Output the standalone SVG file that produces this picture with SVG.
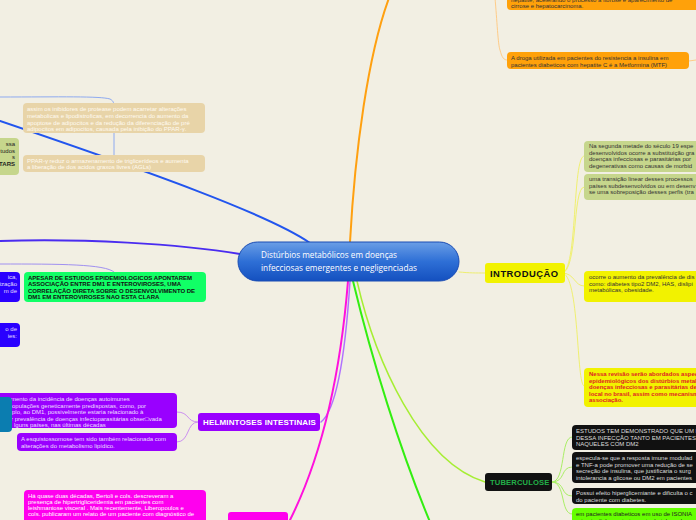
<svg xmlns="http://www.w3.org/2000/svg" width="696" height="520" viewBox="0 0 696 520">
<defs>
<linearGradient id="cg" x1="0" y1="0" x2="0" y2="1">
<stop offset="0" stop-color="#6a9ee6"/>
<stop offset="0.5" stop-color="#2e6fd6"/>
<stop offset="1" stop-color="#1450bf"/>
</linearGradient>
<style>
.t{font-family:"Liberation Sans",Arial,sans-serif;font-size:6px}
.b{font-weight:bold}
.h{font-family:"Liberation Sans",Arial,sans-serif;font-weight:bold}
.c{fill:none;stroke-linecap:round}
</style>
</defs>
<rect width="696" height="520" fill="#f2efe3"/>

<g id="connectors">
<path class="c" d="M310 243 C270 215 150 172 0 121" stroke="#2255ee" stroke-width="2"/>
<path class="c" d="M240 254 C180 244 80 238 0 241" stroke="#4a2cf0" stroke-width="2"/>
<path class="c" d="M350 242 C355 150 368 55 389 -2" stroke="#ffa010" stroke-width="2"/>
<path class="c" d="M459 272 C470 273 475 273 485 273" stroke="#eeee70" stroke-width="1"/>
<path class="c" d="M350 281 C345 360 336 410 321 422" stroke="#b070ff" stroke-width="1.5"/>
<path class="c" d="M348 281 C340 380 320 460 290 520" stroke="#ff11dd" stroke-width="2"/>
<path class="c" d="M353 281 C372 360 400 450 430 522" stroke="#33ee11" stroke-width="2"/>
<path class="c" d="M357 281 C375 360 420 462 485 482" stroke="#a6ee33" stroke-width="1.5"/>
<path class="c" d="M0 97 C60 97 100 96 110 99 C114 101 114 104 114 108 L114 155" stroke="#8eaaf0" stroke-width="1"/>
<path class="c" d="M0 264 C60 264 105 264 114 272" stroke="#a090f0" stroke-width="1"/>
<path class="c" d="M495 -2 C497 20 498 45 500 50 C502 58 504 60 507 60" stroke="#ffcc88" stroke-width="1"/>
<path class="c" d="M689 61 L696 60" stroke="#ffcc88" stroke-width="1"/>
<path class="c" d="M562 273 C578 273 572 156 584 156" stroke="#f0f070" stroke-width="1"/>
<path class="c" d="M562 273 C578 273 572 187 584 187" stroke="#f0f070" stroke-width="1"/>
<path class="c" d="M562 273 C575 273 574 286 584 286" stroke="#f0f070" stroke-width="1"/>
<path class="c" d="M562 273 C580 273 576 386 584 386" stroke="#f0f070" stroke-width="1"/>
<path class="c" d="M198 422 C186 422 190 412 177 412" stroke="#cc90f0" stroke-width="1"/>
<path class="c" d="M198 422 C186 422 190 442 177 442" stroke="#cc90f0" stroke-width="1"/>
<path class="c" d="M552 482 C566 482 560 437 572 437" stroke="#aaee66" stroke-width="1"/>
<path class="c" d="M552 482 C566 482 560 467 572 467" stroke="#aaee66" stroke-width="1"/>
<path class="c" d="M552 482 C566 482 560 496 572 496" stroke="#aaee66" stroke-width="1"/>
<path class="c" d="M552 482 C566 482 560 514 572 514" stroke="#aaee66" stroke-width="1"/>
</g>

<g id="central">
<rect x="238" y="242" width="221" height="39" rx="19.5" fill="url(#cg)" stroke="#1a4cb4" stroke-width="1"/>
<text x="261" y="258" font-family="'Open Sans','Liberation Sans',sans-serif" font-size="9" fill="#ffffff" textLength="136" lengthAdjust="spacingAndGlyphs">Distúrbios metabólicos em doenças</text>
<text x="261" y="271" font-family="'Open Sans','Liberation Sans',sans-serif" font-size="9" fill="#ffffff" textLength="156" lengthAdjust="spacingAndGlyphs">infecciosas emergentes e negligenciadas</text>
</g>

<g id="introducao">
<rect x="485" y="263" width="80" height="20" rx="3" fill="#f2f200"/>
<text x="490" y="277" class="h" style="font-size:9.4px;letter-spacing:0.5px" fill="#111">INTRODUÇÃO</text>
</g>
<g id="intro-seculo19">
<rect x="584" y="141" width="120" height="31" rx="4" fill="#c6d68c"/>
<text class="t" fill="#333" x="589" y="148">Na segunda metade do século 19 espe</text>
<text class="t" fill="#333" x="589" y="154.5">desenvolvidos ocorre a substituição gra</text>
<text class="t" fill="#333" x="589" y="161">doenças infecciosas e parasitárias por</text>
<text class="t" fill="#333" x="589" y="167.5">degenerativas como causas de morbid</text>
</g>
<g id="intro-transicao">
<rect x="584" y="174" width="120" height="26" rx="4" fill="#c6d68c"/>
<text class="t" fill="#333" x="589" y="181">uma transição linear desses processos</text>
<text class="t" fill="#333" x="589" y="187.5">países subdesenvolvidos ou em desenv</text>
<text class="t" fill="#333" x="589" y="194">se uma sobreposição desses perfis (tra</text>
</g>
<g id="intro-prevalencia">
<rect x="584" y="271" width="120" height="31" rx="4" fill="#f2f200"/>
<text class="t" fill="#333" x="589" y="279">ocorre o aumento da prevalência de dis</text>
<text class="t" fill="#333" x="589" y="285.5">como: diabetes tipo2 DM2, HAS, dislipi</text>
<text class="t" fill="#333" x="589" y="292">metabólicas, obesidade.</text>
</g>
<g id="intro-revisao">
<rect x="584" y="368" width="120" height="39" rx="4" fill="#f2f200"/>
<text class="t b" fill="#e02424" x="589" y="376">Nessa revisão serão abordados aspec</text>
<text class="t b" fill="#e02424" x="589" y="382.5">epidemiológicos dos distúrbios metab</text>
<text class="t b" fill="#e02424" x="589" y="389">doenças infecciosas e parasitárias de</text>
<text class="t b" fill="#e02424" x="589" y="395.5">local no brasil, assim como mecanism</text>
<text class="t b" fill="#e02424" x="589" y="402">associação.</text>
</g>

<g id="orange-cirrose">
<rect x="507" y="-20" width="200" height="30" rx="4" fill="#ffa10a"/>
<text class="t" fill="#333" x="511" y="1.5">hepatite, acelerando o processo a fibrose e aparecimento de</text>
<text class="t" fill="#333" x="511" y="8">cirrose e  hepatocarcinoma.</text>
</g>
<g id="orange-metformina">
<rect x="507" y="52" width="182" height="17" rx="4" fill="#ffa10a"/>
<text class="t" fill="#333" x="511" y="60">A droga utilizada em pacientes do resistencia a insulina em</text>
<text class="t" fill="#333" x="511" y="66.5">pacientes diabeticos com hepatite C é a Metformina (MTF)</text>
</g>

<g id="tan-inibidores">
<rect x="23" y="103" width="182" height="30" rx="4" fill="#e8d4a8"/>
<text class="t" fill="#fffaf0" x="27" y="110.5">assim os inibidores de protease podem acarretar alterações</text>
<text class="t" fill="#fffaf0" x="27" y="117.5">metabolicas e lipodistroficas, em decorrencia do aumento da</text>
<text class="t" fill="#fffaf0" x="27" y="124.5">apoptose de adipocitos e da redução da diferenciação de pré</text>
<text class="t" fill="#fffaf0" x="27" y="131">adipocitos em adipocitos, causada pela inibição do PPAR-γ.</text>
</g>
<g id="tan-ppar">
<rect x="23" y="155" width="182" height="17" rx="4" fill="#e8d4a8"/>
<text class="t" fill="#fffaf0" x="27" y="162.5">PPAR-γ reduz  o armazenamento de triglicerídeos e  aumenta</text>
<text class="t" fill="#fffaf0" x="27" y="169">a liberação de dos acidos graxos livres (AGLs)</text>
</g>
<g id="olive-left">
<rect x="-20" y="138" width="39" height="37" rx="4" fill="#c6d68c"/>
<text class="t" fill="#222" x="15" y="146" text-anchor="end">ssa</text>
<text class="t" fill="#222" x="15" y="153" text-anchor="end">tudos</text>
<text class="t" fill="#222" x="15" y="159" text-anchor="end">s</text>
<text class="t b" fill="#222" x="15" y="166" text-anchor="end">TARS</text>
</g>

<g id="violet-1">
<rect x="-20" y="272" width="40" height="30" rx="4" fill="#2a00ff"/>
<text class="t" fill="#e0dcff" x="17" y="279" text-anchor="end">ica,</text>
<text class="t" fill="#e0dcff" x="17" y="286" text-anchor="end">ização</text>
<text class="t" fill="#e0dcff" x="17" y="293" text-anchor="end">m de</text>
</g>
<g id="violet-2">
<rect x="-20" y="323" width="40" height="24" rx="4" fill="#2a00ff"/>
<text class="t" fill="#e0dcff" x="17" y="331" text-anchor="end">o de</text>
<text class="t" fill="#e0dcff" x="17" y="338" text-anchor="end">ies:</text>
</g>
<g id="green-apesar">
<rect x="24" y="272" width="182" height="30" rx="4" fill="#11ff66"/>
<text class="t b" fill="#111" x="28" y="279.5">APESAR DE ESTUDOS EPIDEMIOLOGICOS APONTAREM</text>
<text class="t b" fill="#111" x="28" y="286">ASSOCIAÇÃO ENTRE DM1 E ENTEROVIROSES, UMA</text>
<text class="t b" fill="#111" x="28" y="292.5">CORRELAÇÃO DIRETA SOBRE O DESENVOLVIMENTO DE</text>
<text class="t b" fill="#111" x="28" y="299">DM1 EM ENTEROVIROSES NAO ESTA CLARA</text>
</g>

<g id="helmintoses">
<rect x="198" y="413" width="122" height="18" rx="3" fill="#9900ff"/>
<text x="203" y="425" class="h" style="font-size:8px;letter-spacing:0.15px" fill="#ffffff">HELMINTOSES INTESTINAIS</text>
</g>
<g id="helm-autoimunes">
<rect x="-20" y="393" width="197" height="35" rx="4" fill="#9900ff"/>
<text class="t" fill="#eedfff" x="11" y="401">mento da incidência de doenças autoimunes</text>
<text class="t" fill="#eedfff" x="12" y="407.5">opulações geneticamente predispostas, como, por</text>
<text class="t" fill="#eedfff" x="12" y="414">plo, ao DM1, possivelmente estaria relacionado à</text>
<text class="t" fill="#eedfff" x="11" y="420.5">r prevalência de doenças infectoparasitárias obser□vada</text>
<text class="t" fill="#eedfff" x="14" y="427">lguns países, nas últimas décadas</text>
</g>
<g id="teal-left">
<rect x="-20" y="397" width="32" height="35" rx="4" fill="#0b7db0"/>
</g>
<g id="helm-esquisto">
<rect x="17" y="433" width="160" height="18" rx="4" fill="#9900ff"/>
<text class="t" fill="#eedfff" x="21" y="441">A esquistossomose tem sido também relacionada com</text>
<text class="t" fill="#eedfff" x="21" y="447.5">alterações do metabolismo lipídico.</text>
</g>

<g id="magenta-node">
<rect x="228" y="512" width="60" height="20" rx="3" fill="#ff00ee"/>
</g>
<g id="magenta-leish">
<rect x="24" y="490" width="182" height="40" rx="4" fill="#ff00ee"/>
<text class="t" fill="#ffffff" x="28" y="498">Há quase duas décadas, Bertoli e cols. descreveram a</text>
<text class="t" fill="#ffffff" x="28" y="504">presença de hipertrigliceridemia em pacientes com</text>
<text class="t" fill="#ffffff" x="28" y="510">leishmaniose visceral . Mais recentemente, Liberopoulos e</text>
<text class="t" fill="#ffffff" x="28" y="516">cols. publicaram um relato de um paciente com diagnóstico de</text>
</g>

<g id="tuberculose">
<rect x="485" y="473" width="67" height="18" rx="3" fill="#111111"/>
<text x="490" y="485" class="h" style="font-size:7.6px;letter-spacing:0.15px" fill="#22b048">TUBERCULOSE</text>
</g>
<g id="tb-estudos">
<rect x="572" y="425" width="130" height="25" rx="4" fill="#111111"/>
<text class="t" fill="#dddddd" x="576" y="433">ESTUDOS TEM DEMONSTRADO QUE UM RIS</text>
<text class="t" fill="#dddddd" x="576" y="439.5">DESSA INFECÇÃO TANTO EM PACIENTES C</text>
<text class="t" fill="#dddddd" x="576" y="446">NAQUELES COM DM2</text>
</g>
<g id="tb-especula">
<rect x="572" y="452" width="130" height="31" rx="4" fill="#111111"/>
<text class="t" fill="#dddddd" x="576" y="460">especula-se que a resposta imune modulad</text>
<text class="t" fill="#dddddd" x="576" y="466.5">e TNF-a pode promover uma redução de se</text>
<text class="t" fill="#dddddd" x="576" y="473">secreção de insulina, que justificaria o surg</text>
<text class="t" fill="#dddddd" x="576" y="479.5">intolerancia a glicose ou DM2 em pacientes</text>
</g>
<g id="tb-hiperglicemiante">
<rect x="572" y="488" width="130" height="16" rx="4" fill="#111111"/>
<text class="t" fill="#dddddd" x="576" y="495">Possui efeito hiperglicemiante e dificulta o c</text>
<text class="t" fill="#dddddd" x="576" y="501.5">do paciente com diabetes.</text>
</g>
<g id="tb-isoniazida">
<rect x="572" y="508" width="130" height="20" rx="4" fill="#66ff00"/>
<text class="t" fill="#222" x="576" y="516">em pacientes diabeticos em uso de ISONIA</text>
<text class="t" fill="#222" x="576" y="522.5">primeira linha no tratamento da tuberculose</text>
</g>
</svg>
